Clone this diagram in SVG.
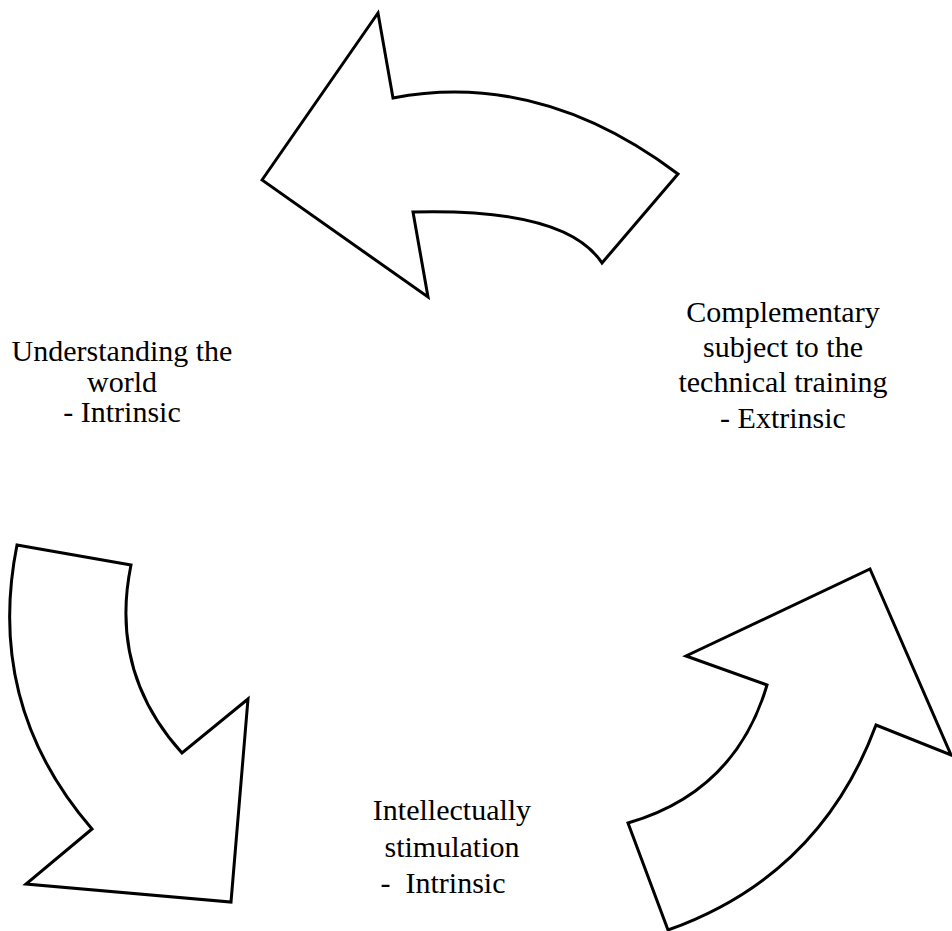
<svg xmlns="http://www.w3.org/2000/svg" width="952" height="931" viewBox="0 0 952 931">
<style>
.arrow{fill:#ffffff;stroke:#000000;stroke-width:3;stroke-linejoin:miter}
.lbl{font-family:"Liberation Serif","Times New Roman",serif;font-size:30px;fill:#000000;text-anchor:middle;white-space:pre}
</style>
<rect width="952" height="931" fill="#ffffff"/>
<g id="connectors">
<g id="arrow-top"><path class="arrow" d="M262,180 L378,13 L393,98 Q540,70 678,174 L602,263 Q566,208 413,212 L428,297 Z"/></g>
<g id="arrow-left"><path class="arrow" d="M17,545 L131,565 Q109,672 182,753 L248,699 L231,902 L26,884 L92,829 Q-15,705 17,545 Z"/></g>
<g id="arrow-right"><path class="arrow" d="M870,569 L951,755 L876,725 Q820,876 668,930 L628,823 Q735.5,792 767,685 L686,656 Z"/></g>
</g>
<g id="node-understanding">
<text class="lbl" x="122" y="361">Understanding the</text>
<text class="lbl" x="122" y="392">world</text>
<text class="lbl" x="122" y="422">- Intrinsic</text>
</g>
<g id="node-complementary">
<text class="lbl" x="783" y="322">Complementary</text>
<text class="lbl" x="783" y="357">subject to the</text>
<text class="lbl" x="783" y="392">technical training</text>
<text class="lbl" x="783" y="428">- Extrinsic</text>
</g>
<g id="node-intellectually">
<text class="lbl" x="452" y="820">Intellectually</text>
<text class="lbl" x="452" y="857">stimulation</text>
<text class="lbl" x="443" y="893">-  Intrinsic</text>
</g>
</svg>
